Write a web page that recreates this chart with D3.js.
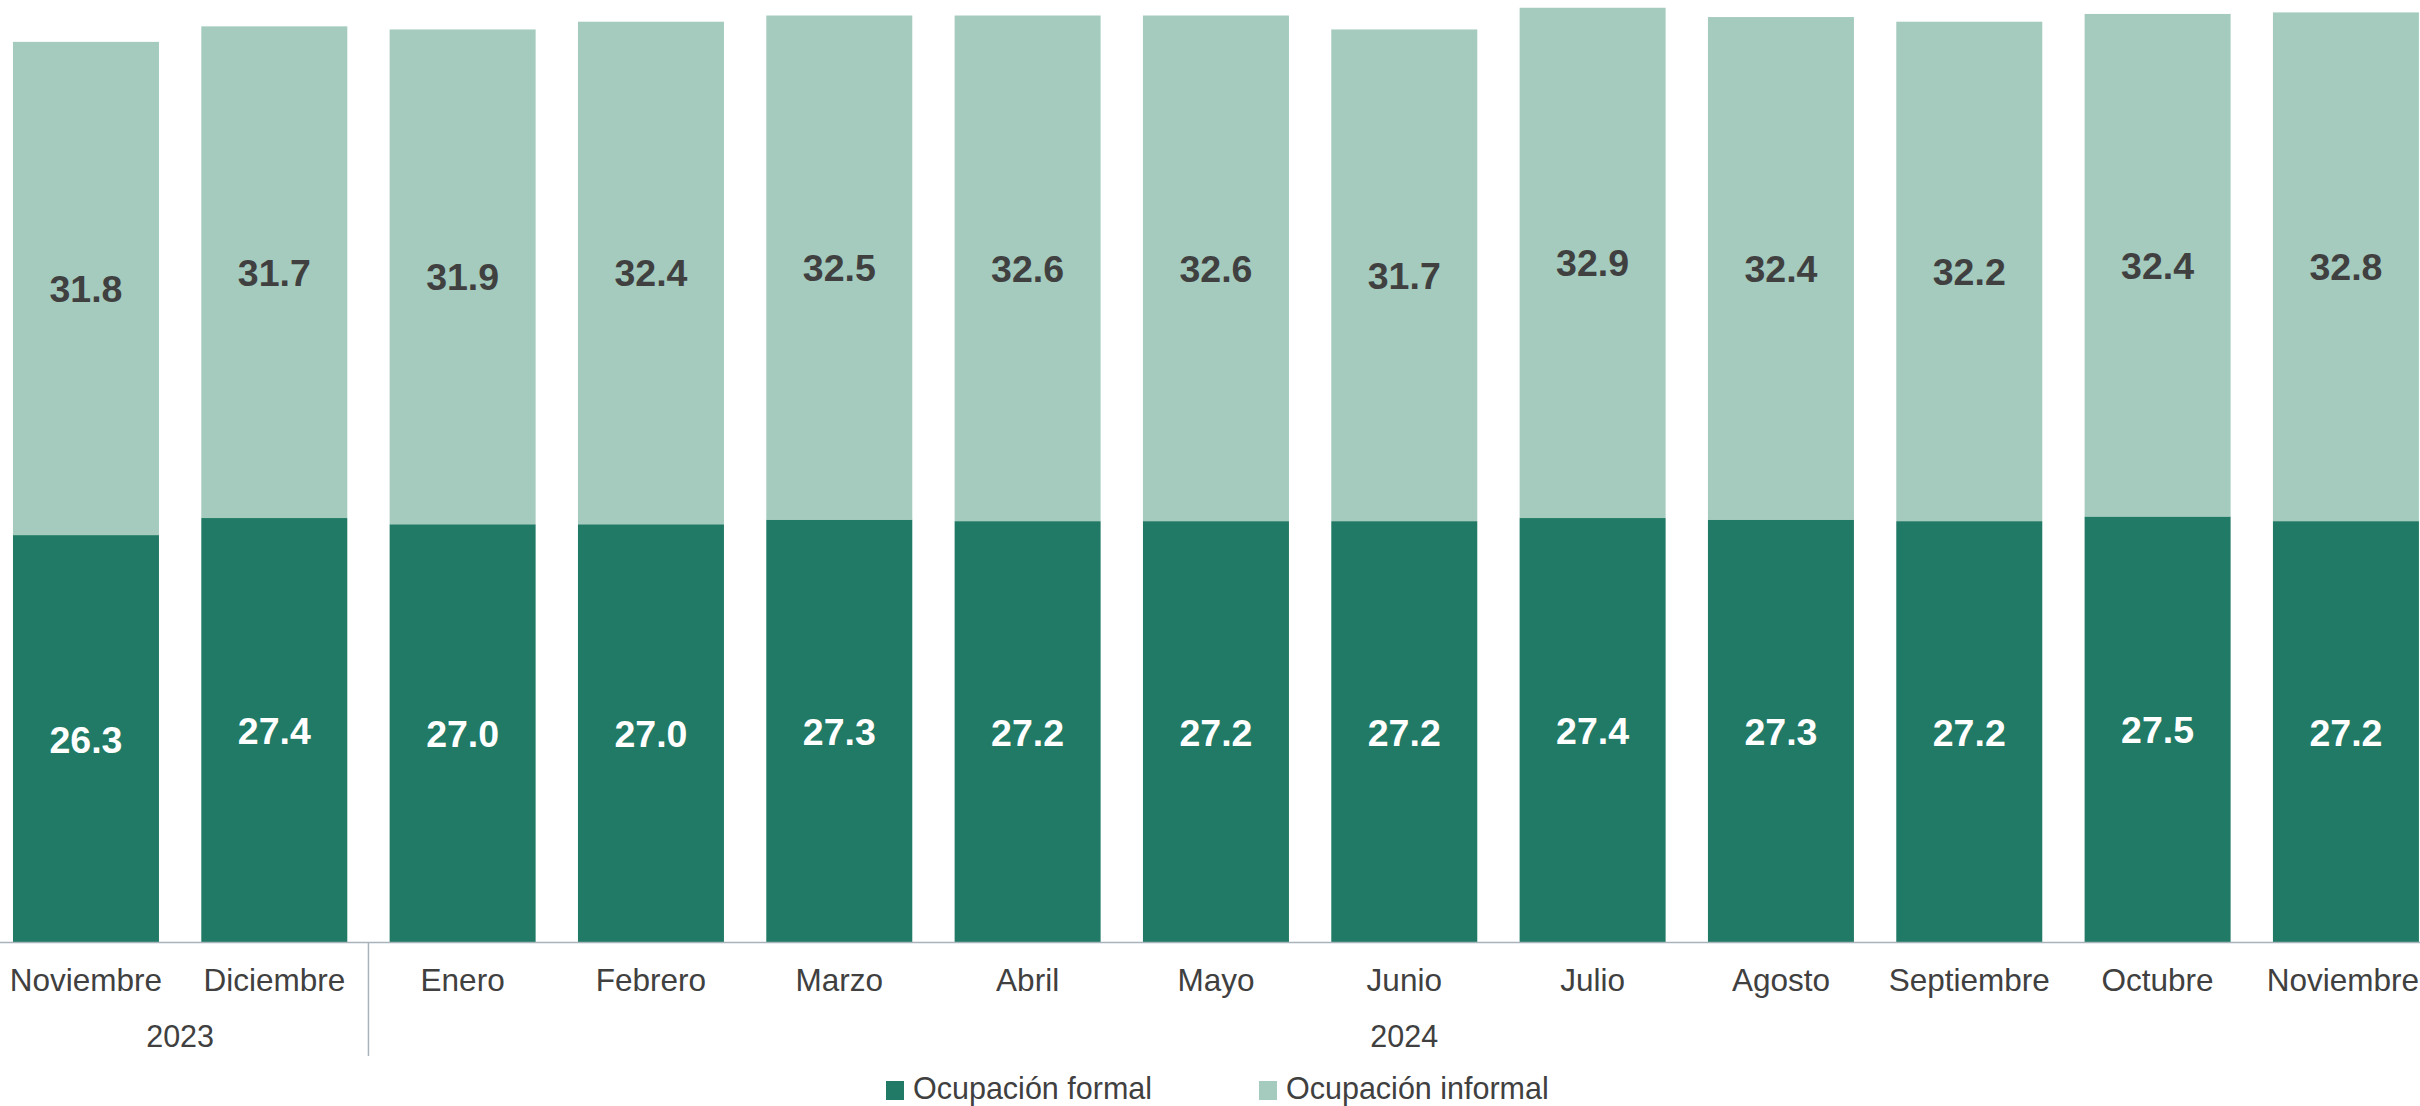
<!DOCTYPE html>
<html>
<head>
<meta charset="utf-8">
<script src="https://cdn.jsdelivr.net/npm/d3@7"></script>
<style>
  html, body { margin: 0; padding: 0; background: #ffffff; }
  svg { display: block; }
  text { font-family: "Liberation Sans", Arial, sans-serif; }
</style>
</head>
<body>
<svg id="chart" width="2420" height="1106"></svg>
<script>
const months = ["Noviembre","Diciembre","Enero","Febrero","Marzo","Abril","Mayo","Junio","Julio","Agosto","Septiembre","Octubre","Noviembre"];
const years = ["2023","2023","2024","2024","2024","2024","2024","2024","2024","2024","2024","2024","2024"];
const formal = [26.3, 27.4, 27.0, 27.0, 27.3, 27.2, 27.2, 27.2, 27.4, 27.3, 27.2, 27.5, 27.2];
const informal = [31.8, 31.7, 31.9, 32.4, 32.5, 32.6, 32.6, 31.7, 32.9, 32.4, 32.2, 32.4, 32.8];
const seriesNames = ["Ocupación formal", "Ocupación informal"];
const colors = ["#207a65", "#a4cbbe"];
const labelColors = ["#ffffff", "#404040"];

const svg = d3.select("#chart");
const W = 2420;
const baseY = 943;
const ids = months.map((m, i) => i);

const x = d3.scaleBand()
  .domain(ids)
  .range([-8.2, 2440.1])
  .paddingInner(0.2248)
  .paddingOuter(0.1124);

const y = d3.scaleLinear().domain([0, 60.8]).range([baseY, 0]);

const rows = ids.map(i => ({ i, formal: formal[i], informal: informal[i] }));
const stack = d3.stack().keys(["formal", "informal"]);
const layers = stack(rows);

const g = svg.append("g");
layers.forEach((layer, k) => {
  g.selectAll(null).data(layer).enter().append("rect")
    .attr("x", d => x(d.data.i))
    .attr("y", d => y(d[1]))
    .attr("width", x.bandwidth())
    .attr("height", d => y(d[0]) - y(d[1]))
    .attr("fill", colors[k]);
});

// axis line
svg.append("line")
  .attr("x1", 0).attr("x2", W)
  .attr("y1", baseY - 0.5).attr("y2", baseY - 0.5)
  .attr("stroke", "#a8b3bc").attr("stroke-width", 1.5);

// value labels
layers.forEach((layer, k) => {
  svg.selectAll(null).data(layer).enter().append("text")
    .attr("x", d => x(d.data.i) + x.bandwidth() / 2)
    .attr("y", d => (y(d[0]) + y(d[1])) / 2)
    .attr("dy", "0.36em")
    .attr("text-anchor", "middle")
    .attr("font-weight", "bold")
    .attr("font-size", "37.5px")
    .attr("fill", labelColors[k])
    .text(d => (d[1] - d[0]).toFixed(1));
});

// month labels
svg.selectAll(null).data(ids).enter().append("text")
  .attr("x", i => x(i) + x.bandwidth() / 2)
  .attr("y", 991)
  .attr("text-anchor", "middle")
  .attr("font-size", "31.5px")
  .attr("fill", "#404040")
  .text(i => months[i])
  .each(function() {
    // keep labels inside the picture
    const bb = this.getBBox();
    const over = bb.x + bb.width - (W - 1);
    if (over > 0) d3.select(this).attr("x", +d3.select(this).attr("x") - over);
  });

// year groups
const groups = d3.groups(ids, i => years[i]);
groups.forEach(([yr, idx], gi) => {
  const c0 = x(idx[0]) + x.bandwidth() / 2;
  const c1 = x(idx[idx.length - 1]) + x.bandwidth() / 2;
  svg.append("text")
    .attr("x", (c0 + c1) / 2)
    .attr("y", 1047)
    .attr("text-anchor", "middle")
    .attr("font-size", "30.5px")
    .attr("fill", "#404040")
    .text(yr);
  if (gi > 0) {
    const sx = x(idx[0]) - x.step() * x.paddingInner() / 2;
    svg.append("line")
      .attr("x1", sx).attr("x2", sx)
      .attr("y1", baseY).attr("y2", 1056)
      .attr("stroke", "#a8b3bc").attr("stroke-width", 1.5);
  }
});

// legend
const legendX = [886, 1259];
seriesNames.forEach((name, k) => {
  svg.append("rect")
    .attr("x", legendX[k]).attr("y", 1081)
    .attr("width", 18).attr("height", 19)
    .attr("fill", colors[k]);
  svg.append("text")
    .attr("x", legendX[k] + 27)
    .attr("y", 1099)
    .attr("font-size", "30.5px")
    .attr("fill", "#404040")
    .text(name);
});
</script>
</body>
</html>
